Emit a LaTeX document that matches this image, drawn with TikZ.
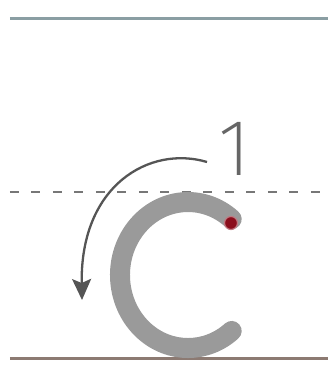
\documentclass[tikz,border=0pt]{standalone}
\usepackage{fontspec}
\newfontfamily\onefont{Fira Sans ExtraLight}
\usetikzlibrary{arrows.meta}
\definecolor{toplineclr}{HTML}{8A9EA3}
\definecolor{baselineclr}{HTML}{8C7A72}
\definecolor{midlineclr}{HTML}{777777}
\definecolor{cgray}{HTML}{9A9A9A}
\definecolor{arrowgray}{HTML}{555555}
\definecolor{dotred}{HTML}{8B0E1C}
\definecolor{numgray}{HTML}{666666}
\tikzset{
  guide/.style={line width=3pt},
  midguide/.style={line width=2.5pt, color=midlineclr, dash pattern=on 9pt off 12.5pt},
  letter/.style={line width=20pt, color=cgray},
  dirarrow/.style={line width=2.3pt, color=arrowgray, -{Stealth[length=21pt,width=19pt,inset=4pt]}},
  startdot/.style={circle, fill=dotred, draw=dotred!55!white, line width=1.2pt, minimum size=13pt, inner sep=0pt},
  numlabel/.style={font=\onefont\fontsize{80}{80}\selectfont, text=numgray, inner sep=0pt, anchor=base}
}
\begin{document}
\begin{tikzpicture}[x=1pt,y=-1pt]
\useasboundingbox (0,0) rectangle (330,368);
\coordinate (tl) at (10,18);
\coordinate (tr) at (328,18);
\coordinate (ml) at (10,192);
\coordinate (mr) at (328,192);
\coordinate (bl) at (10,358);
\coordinate (br) at (328,358);
\draw[guide, color=toplineclr] (tl) -- (tr);
\draw[midguide] (ml) -- (mr);
\draw[guide, color=baselineclr] (bl) -- (br);
% letter c
\coordinate (ctop) at (231.7,219.1);
\draw[letter, line cap=round] (ctop) arc[start angle=-50, end angle=-310, x radius=68, y radius=73];
\node[startdot] (dot) at (231,223) {};
% direction arrow
\coordinate (as) at (207,162);
\coordinate (ae) at (82,300);
\draw[dirarrow] (as) .. controls (150,145) and (80,185) .. (ae);
\node[numlabel] (n1) at (235,175) {1};
\end{tikzpicture}
\end{document}
